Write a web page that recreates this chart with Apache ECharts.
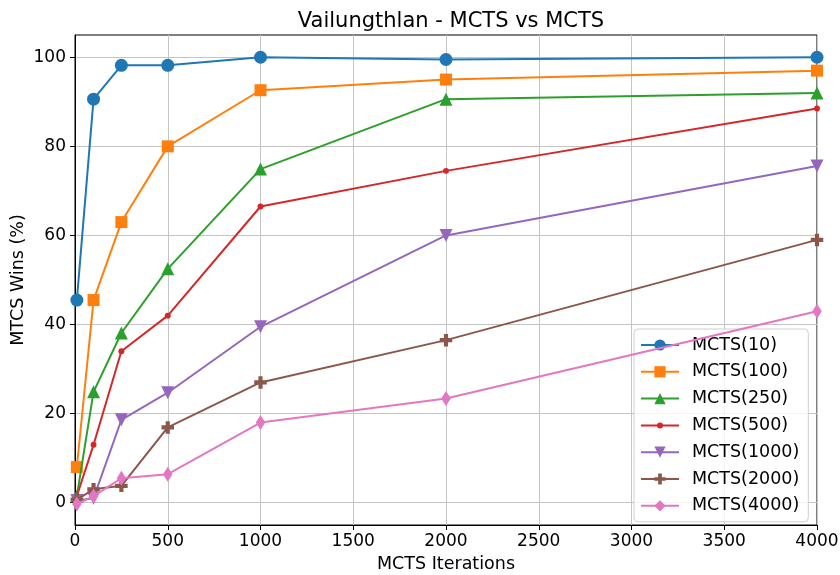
<!DOCTYPE html>
<html>
<head>
<meta charset="utf-8">
<script src="https://cdn.jsdelivr.net/npm/echarts@6/dist/echarts.min.js"></script>
<style>html,body{margin:0;padding:0;background:#fff}#c{width:840px;height:575px}</style>
</head>
<body>
<div id="c"></div>
<script>
const iterations = [10, 100, 250, 500, 1000, 2000, 4000];
const seriesNames = ['MCTS(10)', 'MCTS(100)', 'MCTS(250)', 'MCTS(500)', 'MCTS(1000)', 'MCTS(2000)', 'MCTS(4000)'];
const mcts10   = [45.5, 90.6, 98.2, 98.2, 100, 99.5, 100];
const mcts100  = [8.0, 45.5, 63.0, 80.0, 92.6, 95.0, 97.0];
const mcts250  = [1.5, 24.9, 38.1, 52.5, 74.9, 90.6, 92.0];
const mcts500  = [1.5, 13.0, 34.0, 42.0, 66.5, 74.5, 88.5];
const mcts1000 = [0.5, 1.0, 18.6, 24.7, 39.5, 60.0, 75.6];
const mcts2000 = [0.7, 3.0, 3.8, 16.9, 27.0, 36.5, 59.0];
const mcts4000 = [-0.3, 1.5, 5.5, 6.4, 18.0, 23.4, 43.0];
const yTicks = [0, 20, 40, 60, 80, 100];
const xTicks = [0, 500, 1000, 1500, 2000, 2500, 3000, 3500, 4000];

const allValues = [mcts10, mcts100, mcts250, mcts500, mcts1000, mcts2000, mcts4000];
const colors = ['#1f77b4', '#ff7f0e', '#2ca02c', '#d62728', '#9467bd', '#8c564b', '#e377c2'];
const plusPath = 'path://M1,0H2V1H3V2H2V3H1V2H0V1H1Z';
const dotPath = 'path://M0,0M10,10M2.3,5a2.7,2.7 0 1,0 5.4,0a2.7,2.7 0 1,0 -5.4,0Z';
const symbols = [
  {symbol: 'circle', size: 13, rotate: 0},
  {symbol: 'rect', size: 12, rotate: 0},
  {symbol: 'triangle', size: 13, rotate: 0},
  {symbol: dotPath, size: 11, rotate: 0},
  {symbol: 'triangle', size: 13, rotate: 180},
  {symbol: plusPath, size: 12.5, rotate: 0},
  {symbol: 'diamond', size: [9.5, 15], rotate: 0}
];
const font = 'DejaVu Sans';

const series = seriesNames.map((name, i) => ({
  name: name,
  type: 'line',
  data: iterations.map((x, j) => [x, allValues[i][j]]),
  symbol: symbols[i].symbol,
  symbolSize: symbols[i].size,
  symbolRotate: symbols[i].rotate,
  showAllSymbol: true,
  clip: false,
  lineStyle: {color: colors[i], width: 2},
  itemStyle: {color: colors[i], borderWidth: 0},
  emphasis: {disabled: true},
  animation: false,
  z: 2 + i
}));

const chart = echarts.init(document.getElementById('c'), null, {renderer: 'canvas'});
chart.setOption({
  animation: false,
  backgroundColor: '#fff',
  title: {
    text: 'Vailungthlan - MCTS vs MCTS',
    left: 446, top: 6, textAlign: 'center',
    textStyle: {fontFamily: font, fontSize: 21, fontWeight: 'normal', color: '#000'}
  },
  grid: {left: 75, right: 23, top: 35, bottom: 50, show: true, borderColor: '#000', borderWidth: 1,
         backgroundColor: 'transparent', containLabel: false, outerBoundsMode: 'none'},
  legend: {
    orient: 'vertical',
    left: 634, top: 329,
    padding: [7, 9, 7, 6],
    itemGap: 8.8,
    itemWidth: 38, itemHeight: 14,
    backgroundColor: 'rgba(255,255,255,0.8)',
    borderColor: '#d0d0d0', borderWidth: 1, borderRadius: 4,
    textStyle: {fontFamily: font, fontSize: 17.5, lineHeight: 17, color: '#000', padding: [0, 0, 0, 8]},
    data: seriesNames
  },
  xAxis: {
    type: 'value', min: 0, max: 4000, interval: 500,
    name: 'MCTS Iterations', nameLocation: 'middle', nameGap: 30,
    nameTextStyle: {fontFamily: font, fontSize: 17.5, color: '#000'},
    axisLine: {show: true, onZero: false, lineStyle: {color: '#000', width: 1}},
    axisTick: {show: true, length: 5, lineStyle: {color: '#000'}},
    axisLabel: {fontFamily: font, fontSize: 17, color: '#000', margin: 8, formatter: v => String(v)},
    splitLine: {show: true, lineStyle: {color: '#c4c4c4', width: 1}}
  },
  yAxis: {
    type: 'value', min: -5, max: 105,
    name: 'MTCS Wins (%)', nameLocation: 'middle', nameGap: 48, nameMoveOverlap: false,
    nameTextStyle: {fontFamily: font, fontSize: 17.5, color: '#000'},
    axisLine: {show: true, onZero: false, lineStyle: {color: '#000', width: 1}},
    axisTick: {show: true, length: 5, lineStyle: {color: '#000'}, customValues: yTicks},
    axisLabel: {fontFamily: font, fontSize: 17, color: '#000', margin: 9, customValues: yTicks, formatter: v => String(v)},
    splitLine: {show: true, lineStyle: {color: '#c4c4c4', width: 1}}
  },
  series: series
});
</script>
</body>
</html>
